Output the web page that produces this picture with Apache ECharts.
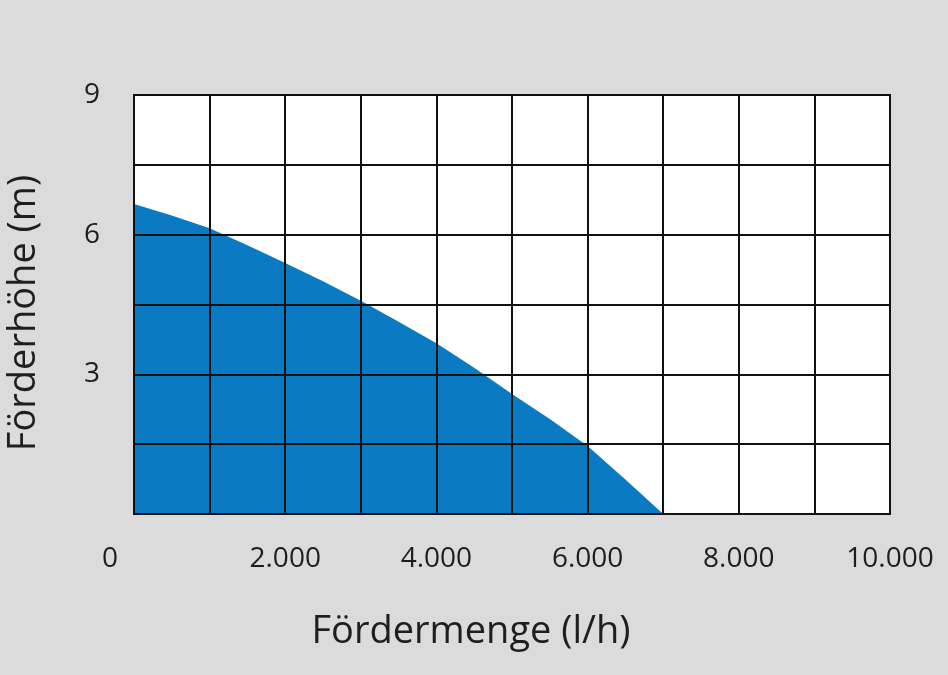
<!DOCTYPE html>
<html>
<head>
<meta charset="utf-8">
<script src="https://cdn.jsdelivr.net/npm/echarts@6/dist/echarts.min.js"></script>
<style>
html,body{margin:0;padding:0;background:#dbdbdb;}
#c{width:948px;height:675px;}
</style>
</head>
<body>
<div id="c"></div>
<script>
// Data
var flowValues = [0, 500, 1000, 1500, 2000, 2500, 3000, 3500, 4000, 4500, 5000, 5500, 6000, 6500, 7000]; // Fördermenge (l/h)
var headValues = [6.66, 6.41, 6.14, 5.77, 5.39, 5.00, 4.58, 4.13, 3.67, 3.14, 2.58, 2.04, 1.46, 0.74, 0]; // Förderhöhe (m)
var xTickLabels = ['0', '2.000', '4.000', '6.000', '8.000', '10.000'];
var yTickLabels = ['3', '6', '9'];
var xTitle = 'Fördermenge (l/h)';
var yTitle = 'Förderhöhe (m)';

var points = flowValues.map(function (x, i) { return [x, headValues[i]]; });
var font = '"Open Sans", "Noto Sans", sans-serif';

var chart = echarts.init(document.getElementById('c'));
chart.setOption({
  backgroundColor: '#dbdbdb',
  animation: false,
  grid: {
    left: 134, top: 95, width: 756, height: 419,
    show: true, backgroundColor: '#ffffff', borderColor: '#111', borderWidth: 2
  },
  xAxis: {
    type: 'value', min: 0, max: 10000, interval: 1000, z: 5,
    axisLine: { show: true, lineStyle: { color: '#111', width: 2 } },
    axisTick: { show: false },
    splitLine: { show: true, lineStyle: { color: '#111', width: 2 } },
    axisLabel: {
      margin: 31, color: '#1e1e1e', fontSize: 28, fontFamily: font,
      formatter: function (v) {
        var idx = v / 2000;
        if (Math.round(idx) !== idx) return '';
        var t = xTickLabels[idx];
        if (v === 0) return '{z|' + t + '}';
        return t;
      },
      rich: { z: { fontSize: 28, fontFamily: font, color: '#1e1e1e', padding: [0, 48, 0, 0] } }
    }
  },
  yAxis: {
    type: 'value', min: 0, max: 9, interval: 1.5, z: 5,
    axisLine: { show: true, lineStyle: { color: '#111', width: 2 } },
    axisTick: { show: false },
    splitLine: { show: true, lineStyle: { color: '#111', width: 2 } },
    axisLabel: {
      margin: 34, color: '#1e1e1e', fontSize: 28, fontFamily: font,
      formatter: function (v) {
        var idx = v / 3 - 1;
        if (idx < 0 || Math.round(idx) !== idx) return '';
        return yTickLabels[idx];
      }
    }
  },
  series: [{
    type: 'line',
    data: points,
    smooth: false,
    symbol: 'none',
    lineStyle: { width: 0 },
    areaStyle: { color: '#0a7bc2', opacity: 1 },
    z: 2
  }],
  graphic: [
    {
      type: 'text', x: 471, y: 632,
      style: { text: xTitle, fontSize: 38, fontFamily: font, fill: '#1e1e1e', align: 'center', verticalAlign: 'middle' }
    },
    {
      type: 'text', x: 24, y: 313, rotation: Math.PI / 2,
      style: { text: yTitle, fontSize: 38, fontFamily: font, fill: '#1e1e1e', align: 'center', verticalAlign: 'middle' }
    }
  ]
});
</script>
</body>
</html>
